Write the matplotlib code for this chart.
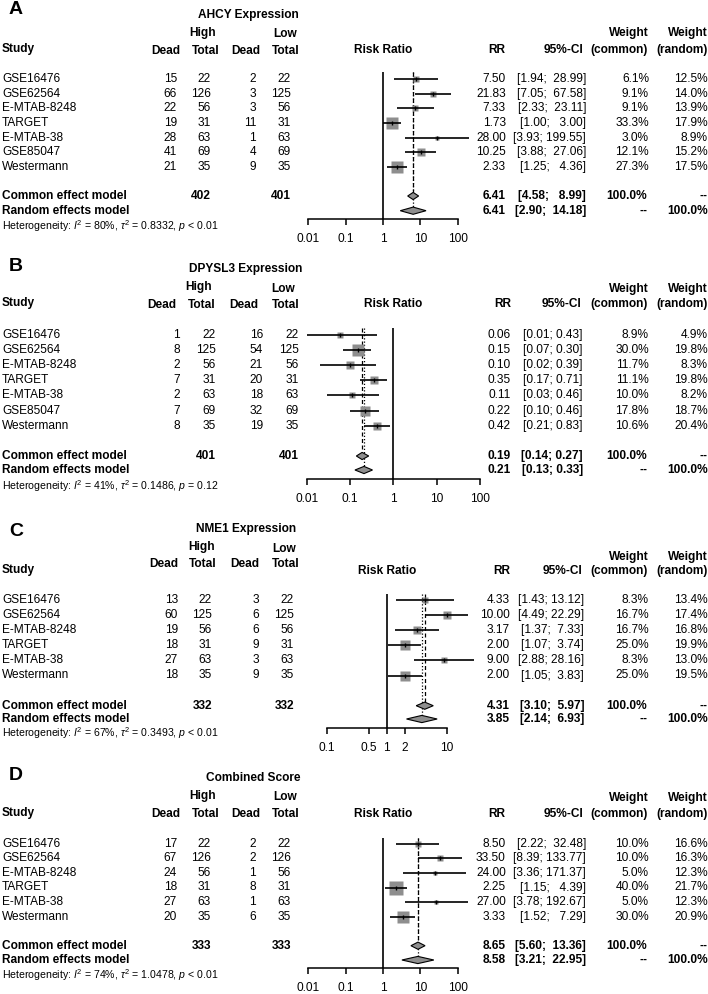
import matplotlib
matplotlib.use("Agg")
import matplotlib.pyplot as plt
import numpy as np
from matplotlib.ticker import NullLocator

plt.rcParams["font.family"] = ["Liberation Sans", "DejaVu Sans"]
plt.rcParams["mathtext.fontset"] = "custom"
plt.rcParams["mathtext.rm"] = "Liberation Sans"
plt.rcParams["mathtext.it"] = "Liberation Sans:italic"
plt.rcParams["mathtext.bf"] = "Liberation Sans:bold"

W, H = 708, 994
FS = 8.6

# ---- data -----------------------------------------------------------------
studies7 = ["GSE16476", "GSE62564", "E-MTAB-8248", "TARGET", "E-MTAB-38",
            "GSE85047", "Westermann"]
studies6 = ["GSE16476", "GSE62564", "E-MTAB-8248", "TARGET", "E-MTAB-38",
            "Westermann"]

# A: AHCY
a_dead_hi = [15, 66, 22, 19, 28, 41, 21]
a_tot_hi = [22, 126, 56, 31, 63, 69, 35]
a_dead_lo = [2, 3, 3, 11, 1, 4, 9]
a_tot_lo = [22, 125, 56, 31, 63, 69, 35]
a_rr = [7.50, 21.83, 7.33, 1.73, 28.00, 10.25, 2.33]
a_lo = [1.94, 7.05, 2.33, 1.00, 3.93, 3.88, 1.25]
a_hi = [28.99, 67.58, 23.11, 3.00, 199.55, 27.06, 4.36]
a_wc = [6.1, 9.1, 9.1, 33.3, 3.0, 12.1, 27.3]
a_wr = [12.5, 14.0, 13.9, 17.9, 8.9, 15.2, 17.5]
a_common = (6.41, 4.58, 8.99)
a_random = (6.41, 2.90, 14.18)
a_totals = (402, 401)
a_het = ("80", "0.8332", "< 0.01")

# B: DPYSL3
b_dead_hi = [1, 8, 2, 7, 2, 7, 8]
b_tot_hi = [22, 125, 56, 31, 63, 69, 35]
b_dead_lo = [16, 54, 21, 20, 18, 32, 19]
b_tot_lo = [22, 125, 56, 31, 63, 69, 35]
b_rr = [0.06, 0.15, 0.10, 0.35, 0.11, 0.22, 0.42]
b_lo = [0.01, 0.07, 0.02, 0.17, 0.03, 0.10, 0.21]
b_hi = [0.43, 0.30, 0.39, 0.71, 0.46, 0.46, 0.83]
b_wc = [8.9, 30.0, 11.7, 11.1, 10.0, 17.8, 10.6]
b_wr = [4.9, 19.8, 8.3, 19.8, 8.2, 18.7, 20.4]
b_common = (0.19, 0.14, 0.27)
b_random = (0.21, 0.13, 0.33)
b_totals = (401, 401)
b_het = ("41", "0.1486", "= 0.12")

# C: NME1
c_dead_hi = [13, 60, 19, 18, 27, 18]
c_tot_hi = [22, 125, 56, 31, 63, 35]
c_dead_lo = [3, 6, 6, 9, 3, 9]
c_tot_lo = [22, 125, 56, 31, 63, 35]
c_rr = [4.33, 10.00, 3.17, 2.00, 9.00, 2.00]
c_lo = [1.43, 4.49, 1.37, 1.07, 2.88, 1.05]
c_hi = [13.12, 22.29, 7.33, 3.74, 28.16, 3.83]
c_wc = [8.3, 16.7, 16.7, 25.0, 8.3, 25.0]
c_wr = [13.4, 17.4, 16.8, 19.9, 13.0, 19.5]
c_common = (4.31, 3.10, 5.97)
c_random = (3.85, 2.14, 6.93)
c_totals = (332, 332)
c_het = ("67", "0.3493", "< 0.01")

# D: combined score
d_dead_hi = [17, 67, 24, 18, 27, 20]
d_tot_hi = [22, 126, 56, 31, 63, 35]
d_dead_lo = [2, 2, 1, 8, 1, 6]
d_tot_lo = [22, 126, 56, 31, 63, 35]
d_rr = [8.50, 33.50, 24.00, 2.25, 27.00, 3.33]
d_lo = [2.22, 8.39, 3.36, 1.15, 3.78, 1.52]
d_hi = [32.48, 133.77, 171.37, 4.39, 192.67, 7.29]
d_wc = [10.0, 10.0, 5.0, 40.0, 5.0, 30.0]
d_wr = [16.6, 16.3, 12.3, 21.7, 12.3, 20.9]
d_common = (8.65, 5.60, 13.36)
d_random = (8.58, 3.21, 22.95)
d_totals = (333, 333)
d_het = ("74", "1.0478", "< 0.01")

ticks_wide = [0.01, 0.1, 1, 10, 100]
ticks_wide_lab = ["0.01", "0.1", "1", "10", "100"]
ticks_c = [0.1, 0.5, 1, 2, 10]
ticks_c_lab = ["0.1", "0.5", "1", "2", "10"]

panels = [
    dict(letter="A", title="AHCY Expression", studies=studies7,
         cols=[a_dead_hi, a_tot_hi, a_dead_lo, a_tot_lo], rr=a_rr, lo=a_lo, hi=a_hi,
         wc=a_wc, wr=a_wr, common=a_common, random=a_random, totals=a_totals,
         het=a_het, ticks=ticks_wide, ticklab=ticks_wide_lab, xlim=(0.01, 100)),
    dict(letter="B", title="DPYSL3 Expression", studies=studies7,
         cols=[b_dead_hi, b_tot_hi, b_dead_lo, b_tot_lo], rr=b_rr, lo=b_lo, hi=b_hi,
         wc=b_wc, wr=b_wr, common=b_common, random=b_random, totals=b_totals,
         het=b_het, ticks=ticks_wide, ticklab=ticks_wide_lab, xlim=(0.01, 100)),
    dict(letter="C", title="NME1 Expression", studies=studies6,
         cols=[c_dead_hi, c_tot_hi, c_dead_lo, c_tot_lo], rr=c_rr, lo=c_lo, hi=c_hi,
         wc=c_wc, wr=c_wr, common=c_common, random=c_random, totals=c_totals,
         het=c_het, ticks=ticks_c, ticklab=ticks_c_lab, xlim=(0.1, 10)),
    dict(letter="D", title="Combined Score", studies=studies6,
         cols=[d_dead_hi, d_tot_hi, d_dead_lo, d_tot_lo], rr=d_rr, lo=d_lo, hi=d_hi,
         wc=d_wc, wr=d_wr, common=d_common, random=d_random, totals=d_totals,
         het=d_het, ticks=ticks_wide, ticklab=ticks_wide_lab, xlim=(0.01, 100)),
]

# ---- layout (pixel positions measured on the reference) -------------------
layouts = [
    dict(lab_y=10, title_y=15, hl_y=(33, 34), study_y=49, head_y=51, rhead_y=50,
         w_y=33, row0=79.3, dy=14.57, sum_y=(196, 210.7), top_y=72, axis_y=219,
         het_y=226,
         num_x=[177, 211, 256, 291], head_x=[180, 219, 260, 299], high_x=203, low_x=285,
         title_x=299, ax_px=(308.3, 457.7), rr_x=505.7, ci_x=586, cihead_x=583.3),
    dict(lab_y=267, title_y=269, hl_y=(287, 289), study_y=303, head_y=305, rhead_y=304,
         w_y=289, row0=335, dy=15.1, sum_y=(456, 470), top_y=327.7, axis_y=479,
         het_y=486.5,
         num_x=[180, 216, 263, 299], head_x=[176, 216, 258, 299], high_x=199, low_x=283,
         title_x=302, ax_px=(306.7, 480), rr_x=511, ci_x=582.7, cihead_x=581.7),
    dict(lab_y=531.7, title_y=529, hl_y=(546.7, 548.7), study_y=570, head_y=564, rhead_y=571,
         w_y=556.7, row0=600, dy=15.1, sum_y=(705.7, 719), top_y=594, axis_y=727.7,
         het_y=733,
         num_x=[178, 212, 259, 294], head_x=[178, 217, 259, 299], high_x=201.7, low_x=284,
         title_x=296, ax_px=(326.7, 446.7), rr_x=510, ci_x=584, cihead_x=582.7),
    dict(lab_y=775.7, title_y=777.7, hl_y=(795.7, 796.7), study_y=812.7, head_y=814.3,
         rhead_y=814.3, w_y=798, row0=843.7, dy=14.6, sum_y=(945.7, 960), top_y=838.3,
         axis_y=968.3, het_y=975.5,
         num_x=[177, 211, 256, 291], head_x=[180, 219, 260, 299], high_x=203, low_x=285,
         title_x=301, ax_px=(308.3, 457.7), rr_x=505.7, ci_x=586, cihead_x=583.3),
]

WC_X, WR_X = 649, 707.7
SQ_COL = "#8e8e8e"


def fx(x):
    return x / W


def fy(y):
    return 1 - y / H


def put(fig, x, y, s, ha="left", bold=False, size=FS):
    fig.text(fx(x), fy(y), s, ha=ha, va="center", fontsize=size,
             fontweight="bold" if bold else "normal")


def ci_strings(lo, hi):
    wl = max(len(f"{v:.2f}") for v in lo)
    wh = max(len(f"{v:.2f}") for v in hi)
    return [f"[{l:{wl}.2f}; {h:{wh}.2f}]" for l, h in zip(lo, hi)]


def draw_panel(fig, p, L):
    n = len(p["studies"])
    y0, dy = L["row0"], L["dy"]

    def ypx(row):
        return y0 + row * dy

    # headers
    fig.text(fx(9), fy(L["lab_y"]), p["letter"], ha="left", va="center",
             fontsize=14, fontweight="bold")
    put(fig, L["title_x"], L["title_y"], p["title"], ha="right", bold=True)
    put(fig, L["high_x"], L["hl_y"][0], "High", ha="center", bold=True)
    put(fig, L["low_x"], L["hl_y"][1], "Low", ha="center", bold=True)
    put(fig, 2, L["study_y"], "Study", bold=True)
    for x, s in zip(L["head_x"], ["Dead", "Total", "Dead", "Total"]):
        put(fig, x, L["head_y"], s, ha="right", bold=True)
    put(fig, sum(L["ax_px"]) / 2, L["rhead_y"], "Risk Ratio", ha="center", bold=True)
    put(fig, L["rr_x"], L["rhead_y"], "RR", ha="right", bold=True)
    put(fig, L["cihead_x"], L["rhead_y"], "95%-CI", ha="right", bold=True)
    put(fig, WC_X, L["w_y"], "Weight", ha="right", bold=True)
    put(fig, WR_X, L["w_y"], "Weight", ha="right", bold=True)
    put(fig, WC_X - 1, L["rhead_y"], "(common)", ha="right", bold=True)
    put(fig, WR_X, L["rhead_y"], "(random)", ha="right", bold=True)

    cis = ci_strings(p["lo"] + [p["common"][1], p["random"][1]],
                     p["hi"] + [p["common"][2], p["random"][2]])

    # study rows
    for i in range(n):
        y = ypx(i)
        put(fig, 2, y, p["studies"][i])
        for x, col in zip(L["num_x"], p["cols"]):
            put(fig, x, y, str(col[i]), ha="right")
        put(fig, L["rr_x"], y, f"{p['rr'][i]:.2f}", ha="right")
        put(fig, L["ci_x"], y, cis[i], ha="right")
        put(fig, WC_X, y, f"{p['wc'][i]:.1f}%", ha="right")
        put(fig, WR_X, y, f"{p['wr'][i]:.1f}%", ha="right")

    # summary rows
    yc, yr = L["sum_y"]
    put(fig, 2, yc, "Common effect model", bold=True)
    put(fig, L["num_x"][1], yc, str(p["totals"][0]), ha="right", bold=True)
    put(fig, L["num_x"][3], yc, str(p["totals"][1]), ha="right", bold=True)
    put(fig, L["rr_x"], yc, f"{p['common'][0]:.2f}", ha="right", bold=True)
    put(fig, L["ci_x"], yc, cis[n], ha="right", bold=True)
    put(fig, WC_X - 2, yc, "100.0%", ha="right", bold=True)
    put(fig, WR_X, yc, "--", ha="right", bold=True)
    put(fig, 2, yr, "Random effects model", bold=True)
    put(fig, L["rr_x"], yr, f"{p['random'][0]:.2f}", ha="right", bold=True)
    put(fig, L["ci_x"], yr, cis[n + 1], ha="right", bold=True)
    put(fig, WC_X - 2, yr, "--", ha="right", bold=True)
    put(fig, WR_X, yr, "100.0%", ha="right", bold=True)

    i2, tau2, pv = p["het"]
    het = (rf"Heterogeneity: $I^2$ = {i2}%, $\tau^2$ = {tau2}, $p$ {pv}")
    put(fig, 2, L["het_y"], het, size=7.6)

    # forest axes
    x0, x1 = L["ax_px"]
    top_row = (L["top_y"] - y0) / dy
    bot_row = (L["axis_y"] - y0) / dy
    row_c = (yc - y0) / dy
    row_r = (yr - y0) / dy
    bottom, top = fy(L["axis_y"]), fy(L["top_y"])
    ax = fig.add_axes([fx(x0), bottom, fx(x1) - fx(x0), top - bottom])
    ax.set_facecolor("none")
    ax.set_xscale("log")
    ax.set_xlim(*p["xlim"])
    ax.set_ylim(bot_row, top_row)
    for s in ["top", "right", "left"]:
        ax.spines[s].set_visible(False)
    ax.spines["bottom"].set_linewidth(1.1)
    ax.set_yticks([])
    ax.set_xticks(p["ticks"])
    ax.set_xticklabels(p["ticklab"])
    ax.xaxis.set_minor_locator(NullLocator())
    ax.tick_params(axis="x", direction="out", length=4.5, width=1.1,
                   labelsize=FS, pad=5.5)

    ax.axvline(1, color="black", lw=1.2, zorder=1)

    h = 3.6 / dy
    for i in range(n):
        side = 2.17 * np.sqrt(p["wc"][i]) * 72 / 100
        ax.plot([p["rr"][i]], [i], marker="s", ms=side, color=SQ_COL,
                mec="none", zorder=2, clip_on=False)
        ax.plot([p["lo"][i], p["hi"][i]], [i, i], color="black", lw=1.2,
                zorder=3, clip_on=False, solid_capstyle="butt")
        ax.plot([p["rr"][i]], [i], marker="|", ms=3.2, mew=1.0, color="black",
                zorder=4, clip_on=False)

    ec, lc, hc = p["common"]
    er, lr, hr = p["random"]
    ax.plot([ec, ec], [top_row, row_c - h], color="black", lw=0.9,
            dashes=(3.2, 2.0), zorder=1)
    ax.plot([er, er], [top_row, row_r - h], color="black", lw=0.9,
            dashes=(1.0, 1.6), zorder=1)
    for est, lo, hi, r in [(ec, lc, hc, row_c), (er, lr, hr, row_r)]:
        ax.fill([lo, est, hi, est], [r, r - h, r, r + h], facecolor=SQ_COL,
                edgecolor="black", lw=0.8, zorder=3)


fig = plt.figure(figsize=(W / 100, H / 100), dpi=100)
for p, L in zip(panels, layouts):
    draw_panel(fig, p, L)

fig.savefig("out.png", dpi=100)
